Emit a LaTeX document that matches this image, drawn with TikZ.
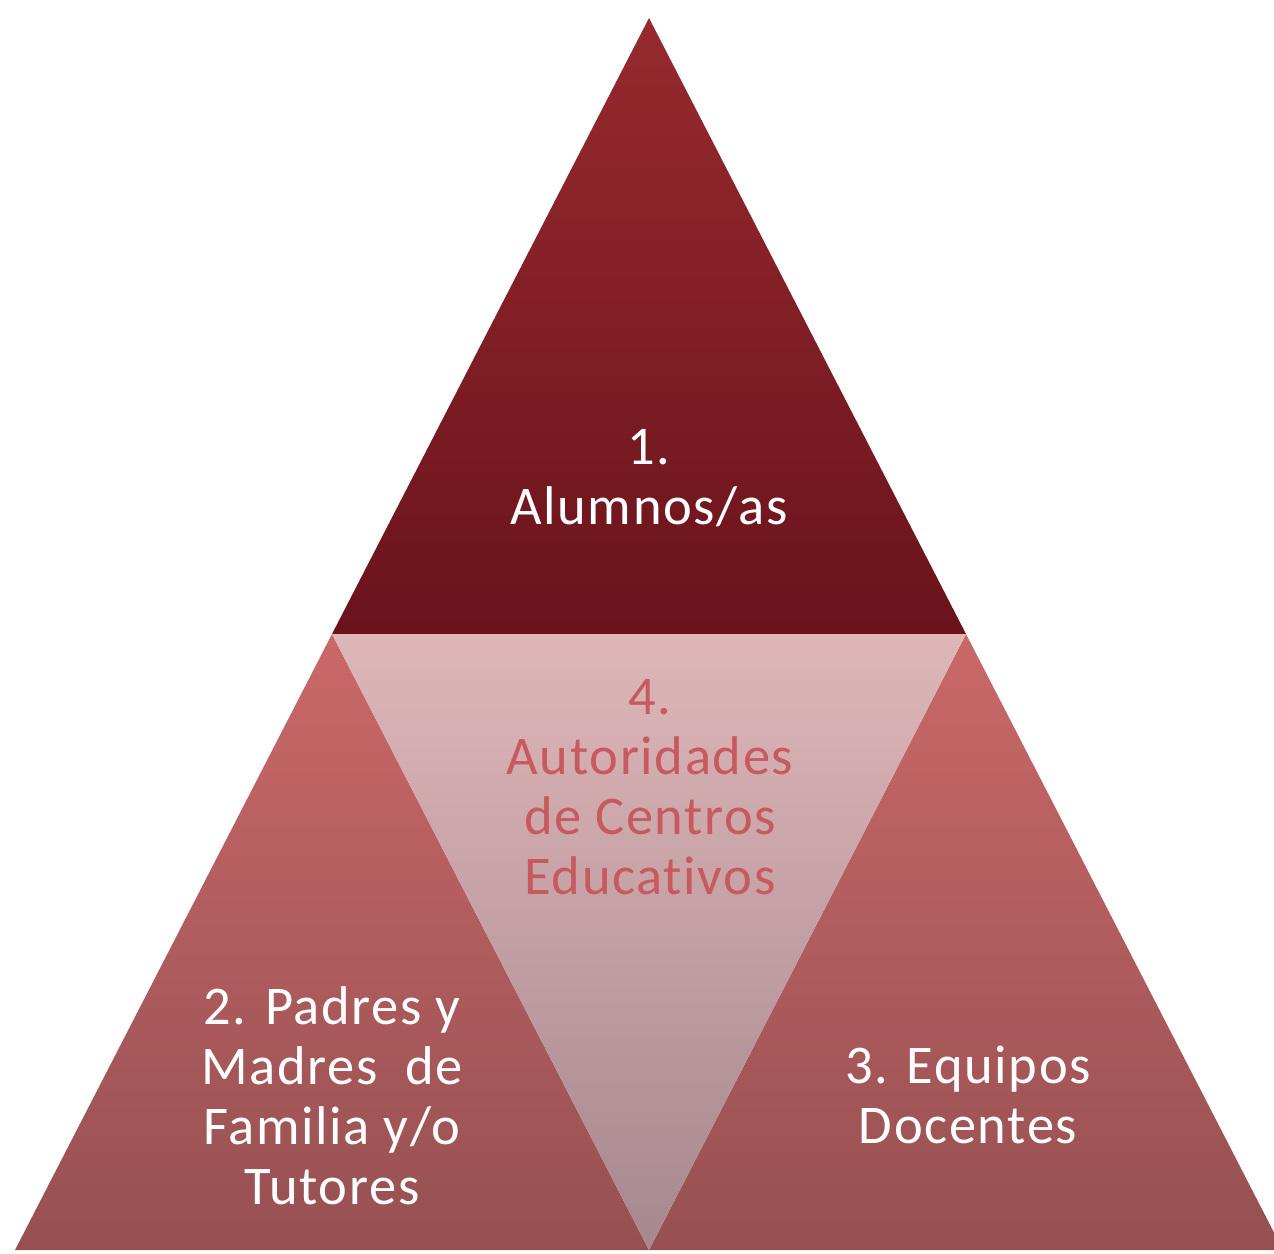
\documentclass[tikz,border=0pt]{standalone}
\usepackage{fontspec}
\setmainfont[LetterSpace=3,Ligatures={NoCommon,NoRare,NoDiscretionary}]{Carlito}
\usetikzlibrary{positioning}
\definecolor{topA}{RGB}{150,42,46}
\definecolor{topB}{RGB}{106,19,28}
\definecolor{sideA}{RGB}{202,104,104}
\definecolor{sideB}{RGB}{150,80,82}
\definecolor{midA}{RGB}{222,182,184}
\definecolor{midB}{RGB}{166,136,142}
\definecolor{midtext}{RGB}{200,90,95}
\tikzset{
  label/.style={align=center, font=\fontsize{15.5pt}{17.1pt}\selectfont, text=white, inner sep=0pt},
  midlabel/.style={label, text=midtext}
}

\begin{document}
\begin{tikzpicture}[x=0.01cm, y=-0.01cm]
	\useasboundingbox (0,0) rectangle (1274,1253);
	\clip (0,0) rectangle (1274,1253);

	\coordinate (apex) at (649,18);
	\coordinate (ml) at (332,634);
	\coordinate (mr) at (966,634);
	\coordinate (bl) at (15,1250);
	\coordinate (bm) at (649,1250);
	\coordinate (br) at (1283,1250);

	% four triangles
	\shade [top color=topA, bottom color=topB] (apex) -- (mr) -- (ml) -- cycle;
	\shade [top color=sideA, bottom color=sideB] (ml) -- (bm) -- (bl) -- cycle;
	\shade [top color=sideA, bottom color=sideB] (mr) -- (br) -- (bm) -- cycle;
	\shade [top color=midA, bottom color=midB] (ml) -- (mr) -- (bm) -- cycle;

	\node [label] (alumnos) at (649,478) {1.\\Alumnos/as};
	\node [midlabel] (autoridades) at (650,787) {4.\\Autoridades\\de Centros\\Educativos};
	\node [label] (padres) at (332,1096) {2. Padres y\\Madres~ de\\Familia y/o\\Tutores};
	\node [label] (equipos) at (968,1095) {3. Equipos\\Docentes};
\end{tikzpicture}
\end{document}
